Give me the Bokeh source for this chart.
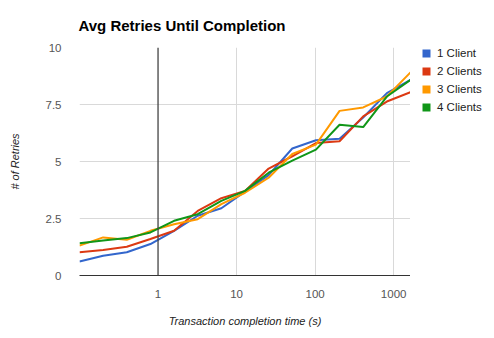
from bokeh.plotting import figure
from bokeh.layouts import row
from bokeh.models import FixedTicker, CustomJSTickFormatter, Span, Legend, LegendItem
from bokeh.embed import file_html
from bokeh.resources import INLINE

x_vals = [0.1, 0.2, 0.4, 0.8, 1.6, 3.2, 6.4, 12.8, 25.6, 51.2, 102.4, 204.8, 409.6, 819.2, 1638.4]
client1 = [0.61, 0.87, 1.02, 1.38, 1.96, 2.62, 2.95, 3.68, 4.40, 5.57, 5.93, 6.00, 6.93, 8.00, 8.58]
client2 = [1.02, 1.12, 1.26, 1.60, 1.96, 2.83, 3.39, 3.71, 4.69, 5.23, 5.81, 5.89, 6.98, 7.63, 8.04]
client3 = [1.31, 1.67, 1.57, 1.96, 2.25, 2.47, 3.13, 3.63, 4.29, 5.33, 5.74, 7.22, 7.37, 7.85, 8.91]
client4 = [1.41, 1.53, 1.64, 1.89, 2.40, 2.69, 3.27, 3.71, 4.51, 5.04, 5.52, 6.61, 6.51, 7.85, 8.58]
series_names = ["1 Client", "2 Clients", "3 Clients", "4 Clients"]
colors = ["#3366cc", "#dc3912", "#ff9900", "#109618"]
y_ticks = [0, 2.5, 5, 7.5, 10]
x_ticks = [1, 10, 100, 1000]

FONT = "Liberation Sans"
NAN = float("nan")

p = figure(width=410, height=338, x_axis_type="log", x_range=(0.1, 1638.4), y_range=(0, 10),
           output_backend="svg", toolbar_location=None,
           min_border_left=79, min_border_right=0, min_border_top=46, min_border_bottom=63,
           title="Avg Retries Until Completion")
p.outline_line_color = None
p.background_fill_color = "white"
p.border_fill_color = "white"

p.title.text_font = FONT
p.title.text_font_size = "15px"
p.title.text_font_style = "bold"
p.title.text_color = "#000000"
p.title.align = "left"
p.title.offset = -1
p.title.standoff = 28

# axes
p.yaxis.ticker = FixedTicker(ticks=y_ticks)
p.yaxis.formatter = CustomJSTickFormatter(code="return tick.toString();")
p.xaxis.ticker = FixedTicker(ticks=x_ticks)
p.xaxis.formatter = CustomJSTickFormatter(code="return Math.round(tick).toString();")
for ax in (p.xaxis, p.yaxis):
    ax.major_tick_line_color = None
    ax.minor_tick_line_color = None
    ax.major_label_text_font = FONT
    ax.major_label_text_font_size = "11.5px"
    ax.major_label_text_color = "#555555"
    ax.axis_label_text_font = FONT
    ax.axis_label_text_font_size = "11px"
    ax.axis_label_text_font_style = "italic"
    ax.axis_label_text_color = "#222222"
p.yaxis.axis_line_color = None
p.xaxis.axis_line_color = "#333333"
p.xaxis.axis_line_width = 1.2
p.yaxis.major_label_standoff = 12
p.xaxis.major_label_standoff = 8
p.yaxis.axis_label = "# of Retries"
p.xaxis.axis_label = "Transaction completion time (s)"
p.yaxis.axis_label_standoff = 22
p.xaxis.axis_label_standoff = 14

p.ygrid.ticker = FixedTicker(ticks=y_ticks)
p.xgrid.ticker = FixedTicker(ticks=[10, 100, 1000])
p.grid.grid_line_color = "#d9d9d9"
p.grid.grid_line_width = 1

p.add_layout(Span(location=1, dimension="height", line_color="#444444", line_width=1.3))

ys = [client1, client2, client3, client4]
for col, yv in zip(colors, ys):
    p.line(x=x_vals, y=yv, line_color=col, line_width=2)

# legend panel as a small companion figure
lf = figure(width=84, height=338, x_range=(0, 1), y_range=(0, 1),
            output_backend="svg", toolbar_location=None,
            x_axis_location=None, y_axis_location=None,
            min_border=0, min_border_left=0, min_border_right=0, min_border_top=0, min_border_bottom=0)
lf.outline_line_color = None
lf.grid.visible = False
lf.background_fill_color = "white"
lf.border_fill_color = "white"

items = []
for name, col in zip(series_names, colors):
    sw = lf.quad(left=[NAN], right=[NAN], top=[NAN], bottom=[NAN], fill_color=col, line_color=None)
    items.append(LegendItem(label=name, renderers=[sw]))

legend = Legend(items=items, location=(11, 162), padding=0, margin=0,
                glyph_width=10, glyph_height=10, label_height=12, spacing=6,
                label_standoff=6, border_line_color=None, background_fill_alpha=0,
                label_text_font=FONT, label_text_font_size="11.5px", label_text_color="#222222")
lf.add_layout(legend, "center")

layout = row(p, lf, spacing=0)
open("out.html", "w").write(file_html(layout, INLINE))
